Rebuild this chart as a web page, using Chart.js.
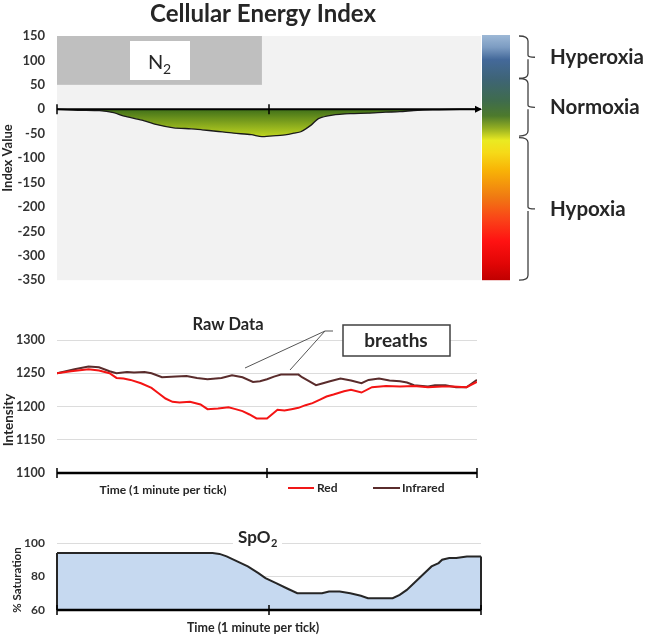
<!DOCTYPE html>
<html>
<head>
<meta charset="utf-8">
<script src="https://cdn.jsdelivr.net/npm/chart.js@4.4.1/dist/chart.umd.min.js"></script>
<style>
  body { margin: 0; background: #fff; }
  #wrap { position: relative; width: 649px; height: 639px; }
  canvas { position: absolute; left: 0; }
</style>
</head>
<body>
<div id="wrap">
  <canvas id="energyChart" style="top:0" width="649" height="300"></canvas>
  <canvas id="rawChart" style="top:300px" width="649" height="200"></canvas>
  <canvas id="spo2Chart" style="top:500px" width="649" height="139"></canvas>
</div>
<script>
"use strict"

// cellular energy index (time in seconds, 2 minutes shown)
const energyTime = [0, 6, 12, 16, 19, 24, 28, 33, 38, 41, 45, 50, 55, 58, 62, 65, 67, 69, 72, 74, 78, 83, 88, 93, 97, 102, 108, 114, 120];
const energyValue = [0, -2, -3, -7, -14, -22, -31, -38, -40, -42, -45, -49, -52, -56, -54, -52, -49, -46, -32, -19, -12, -9, -8, -6, -5, -2, -1, 0, 0];
const energyTicks = [150, 100, 50, 0, -50, -100, -150, -200, -250, -300, -350];
const n2Period = [0, 58];
const n2Range = [50, 150];

// zones next to the colour bar (index value from / to)
const zoneNames = ["Hyperoxia", "Normoxia", "Hypoxia"];
const zoneFrom = [150, 63, -58];
const zoneTo = [63, -55, -350];

// raw data
const redTime = [0, 4, 9, 12, 15, 17, 19, 21, 24, 27, 29, 31, 33, 35, 38, 41, 43, 46, 49, 51, 53, 55, 57, 60, 63, 65, 67, 69, 71, 73, 75, 77, 79, 82, 84, 87, 90, 94, 98, 102, 106, 110, 113, 117, 120];
const redValue = [1250, 1253, 1256, 1254, 1250, 1243, 1242, 1240, 1235, 1228, 1220, 1212, 1207, 1206, 1207, 1203, 1196, 1197, 1199, 1196, 1193, 1188, 1182, 1182, 1195, 1194, 1196, 1198, 1202, 1205, 1210, 1215, 1218, 1223, 1225, 1221, 1229, 1231, 1230, 1231, 1229, 1230, 1230, 1229, 1237];
const irTime = [0, 5, 9, 12, 15, 17, 20, 22, 25, 27, 30, 34, 37, 40, 43, 47, 50, 53, 56, 58, 60, 62, 64, 69, 70, 72, 74, 76, 78, 81, 84, 87, 89, 92, 95, 98, 100, 102, 106, 108, 111, 114, 117, 120];
const irValue = [1250, 1256, 1260, 1259, 1253, 1250, 1252, 1251, 1252, 1250, 1244, 1245, 1246, 1243, 1241, 1243, 1247, 1244, 1237, 1238, 1241, 1245, 1248, 1248, 1244, 1238, 1232, 1235, 1238, 1242, 1239, 1235, 1240, 1242, 1239, 1238, 1236, 1232, 1230, 1232, 1232, 1229, 1229, 1240];
const rawTicks = [1100, 1150, 1200, 1250, 1300];

// SpO2
const spo2Time = [0, 44, 46, 48, 51, 54, 57, 59, 62, 65, 68, 72, 75, 77, 80, 83, 86, 88, 91, 95, 97, 99, 101, 103, 106, 108, 109, 111, 113, 116, 120];
const spo2Value = [94, 94, 93.5, 92, 89, 86, 82, 79, 76, 73, 70, 70, 70, 71, 71, 70, 68.5, 67, 67, 67, 69, 72, 76, 80, 86, 88, 90, 91, 91, 92, 92];
const spo2Ticks = [60, 80, 100];

const timeTicks = [0, 60, 120];

Chart.defaults.font.family = "Lato, 'Open Sans', sans-serif";
Chart.defaults.color = "#3b3b3b";

function points(xs, ys) {
    let out = [];
    for (let i = 0; i < xs.length; i++) {
        out.push({ x: xs[i], y: ys[i] });
    }
    return out;
}

function label(ctx, str, x, y, size, align, rotate) {
    ctx.save();
    ctx.font = "bold " + size + "px Lato, 'Open Sans', sans-serif";
    ctx.fillStyle = "#262626";
    ctx.textAlign = align || "center";
    ctx.textBaseline = "middle";
    ctx.translate(x, y);
    if (rotate) ctx.rotate(-Math.PI / 2);
    ctx.fillText(str, 0, 0);
    ctx.restore();
}

// black time axis with tick marks crossing it
function timeAxis(ctx, x, yPix, width) {
    ctx.save();
    ctx.strokeStyle = "#000";
    ctx.lineWidth = width;
    ctx.beginPath();
    ctx.moveTo(x.getPixelForValue(0), yPix);
    ctx.lineTo(x.getPixelForValue(120), yPix);
    ctx.stroke();
    ctx.lineWidth = 1.5;
    for (let t of timeTicks) {
        let px = x.getPixelForValue(t);
        ctx.beginPath();
        ctx.moveTo(px, yPix - 5);
        ctx.lineTo(px, yPix + 5);
        ctx.stroke();
    }
    ctx.restore();
}

function yScale(min, max, ticks, size, width, gridColor) {
    return {
        min: min,
        max: max,
        afterBuildTicks: s => { s.ticks = ticks.map(v => ({ value: v })); },
        afterFit: s => { s.width = width; },
        ticks: {
            font: { size: size, weight: "bold" },
            color: "#333",
            padding: 12,
            callback: v => String(v)
        },
        border: { display: false },
        grid: {
            drawTicks: false,
            color: c => (gridColor && c.tick.value !== min) ? gridColor : "transparent"
        }
    };
}

const xScale = { type: "linear", min: 0, max: 120, display: false };

// ---------- chart 1: cellular energy index ----------
const energyDecor = {
    id: "energyDecor",
    beforeDatasetsDraw(chart) {
        const { ctx, chartArea: a, scales: { x, y } } = chart;
        ctx.save();
        ctx.fillStyle = "#f2f2f2";
        ctx.fillRect(a.left, a.top, a.right - a.left, a.bottom - a.top);
        let l = x.getPixelForValue(n2Period[0]), r = x.getPixelForValue(n2Period[1]);
        let t = y.getPixelForValue(n2Range[1]), b = y.getPixelForValue(n2Range[0]);
        ctx.fillStyle = "#bfbfbf";
        ctx.fillRect(l, t, r - l, b - t);
        ctx.fillStyle = "#fff";
        ctx.fillRect(130, 41, 60, 39);
        ctx.fillStyle = "#262626";
        ctx.font = "20px Lato, sans-serif";
        ctx.textBaseline = "alphabetic";
        ctx.fillText("N", 148, 69);
        ctx.font = "14px Lato, sans-serif";
        ctx.fillText("2", 163, 74);
        ctx.restore();
    },
    afterDatasetsDraw(chart) {
        const { ctx, chartArea: a, scales: { x, y } } = chart;
        let y0 = y.getPixelForValue(0);
        ctx.save();
        ctx.strokeStyle = "#000";
        ctx.lineWidth = 2;
        ctx.beginPath();
        ctx.moveTo(x.getPixelForValue(0), y0);
        ctx.lineTo(x.getPixelForValue(120) - 4, y0);
        ctx.stroke();
        ctx.fillStyle = "#000";
        ctx.beginPath();
        ctx.moveTo(a.right + 1, y0);
        ctx.lineTo(a.right - 6, y0 - 3.5);
        ctx.lineTo(a.right - 6, y0 + 3.5);
        ctx.closePath();
        ctx.fill();
        ctx.lineWidth = 1.5;
        for (let tk of [0, 60]) {
            let px = x.getPixelForValue(tk);
            ctx.beginPath();
            ctx.moveTo(px, y0 - 5);
            ctx.lineTo(px, y0 + 5);
            ctx.stroke();
        }

        // colour bar
        let top = a.top - 1, bottom = a.bottom;
        let g = ctx.createLinearGradient(0, top, 0, bottom);
        g.addColorStop(0, "#9db8d6");
        g.addColorStop(0.05, "#7c9cc2");
        g.addColorStop(0.10, "#44699a");
        g.addColorStop(0.18, "#3e6476");
        g.addColorStop(0.27, "#3f6c4c");
        g.addColorStop(0.33, "#4d7a2c");
        g.addColorStop(0.38, "#94ae22");
        g.addColorStop(0.43, "#eaea22");
        g.addColorStop(0.48, "#f6da18");
        g.addColorStop(0.55, "#f8b406");
        g.addColorStop(0.66, "#f07a12");
        g.addColorStop(0.75, "#fa4418");
        g.addColorStop(0.84, "#ff1212");
        g.addColorStop(0.93, "#e20606");
        g.addColorStop(1, "#c00000");
        ctx.fillStyle = g;
        ctx.fillRect(482, top, 28, bottom - top);

        // brackets with zone names
        ctx.strokeStyle = "#404040";
        ctx.lineWidth = 1.3;
        for (let i = 0; i < zoneNames.length; i++) {
            let y1 = y.getPixelForValue(zoneFrom[i]);
            let y2 = y.getPixelForValue(zoneTo[i]);
            let ym = (y1 + y2) / 2;
            let bx = 528;
            ctx.beginPath();
            ctx.moveTo(519, y1);
            ctx.quadraticCurveTo(bx, y1, bx, y1 + 5);
            ctx.lineTo(bx, ym - 2);
            ctx.quadraticCurveTo(bx, ym, bx + 7, ym);
            ctx.moveTo(bx, ym + 2);
            ctx.lineTo(bx, y2 - 5);
            ctx.quadraticCurveTo(bx, y2, 519, y2);
            ctx.stroke();
            label(ctx, zoneNames[i], 550, ym, 20.5, "left");
        }
        ctx.restore();

        label(ctx, "Cellular Energy Index", 263, 14, 24);
        label(ctx, "Index Value", 8, 158, 13, "center", true);
    }
};

new Chart(document.getElementById("energyChart"), {
    type: "line",
    data: {
        datasets: [{
            data: points(energyTime, energyValue),
            borderColor: "#1a1a1a",
            borderWidth: 1.3,
            pointRadius: 0,
            tension: 0.25,
            fill: "origin",
            backgroundColor: c => {
                const { ctx, chartArea, scales } = c.chart;
                if (!chartArea) return "#7a9a1a";
                let g = ctx.createLinearGradient(0, scales.y.getPixelForValue(0), 0, scales.y.getPixelForValue(-56));
                g.addColorStop(0, "#40701a");
                g.addColorStop(1, "#c0d620");
                return g;
            }
        }]
    },
    options: {
        responsive: false,
        animation: false,
        layout: { padding: { top: 36, right: 168, bottom: 18, left: 0 } },
        plugins: { legend: { display: false }, tooltip: { enabled: false } },
        scales: { x: xScale, y: yScale(-350, 150, energyTicks, 13, 57, null) }
    },
    plugins: [energyDecor]
});

// ---------- chart 2: raw data ----------
const rawDecor = {
    id: "rawDecor",
    afterDatasetsDraw(chart) {
        const { ctx, chartArea: a, scales: { x } } = chart;
        timeAxis(ctx, x, a.bottom, 2.5);
        label(ctx, "Raw Data", 228, 25, 16.5);
        label(ctx, "Intensity", 9, 120, 13.5, "center", true);
        label(ctx, "Time (1 minute per tick)", 163, 190, 12);

        // legend
        ctx.save();
        ctx.lineWidth = 2;
        ctx.strokeStyle = "#f01818";
        ctx.beginPath(); ctx.moveTo(288, 188); ctx.lineTo(314, 188); ctx.stroke();
        ctx.strokeStyle = "#5a2c2c";
        ctx.beginPath(); ctx.moveTo(373, 188); ctx.lineTo(400, 188); ctx.stroke();
        ctx.restore();
        label(ctx, "Red", 317, 188, 12, "left");
        label(ctx, "Infrared", 402, 188, 12, "left");

        // breaths callout
        ctx.save();
        ctx.strokeStyle = "#555";
        ctx.lineWidth = 1;
        ctx.beginPath();
        ctx.moveTo(245, 68); ctx.lineTo(325, 31); ctx.lineTo(290, 70);
        ctx.moveTo(325, 31); ctx.lineTo(333, 31);
        ctx.stroke();
        ctx.fillStyle = "#fff";
        ctx.fillRect(343, 25, 107, 31);
        ctx.strokeStyle = "#404040";
        ctx.lineWidth = 1.5;
        ctx.strokeRect(343, 25, 107, 31);
        ctx.restore();
        label(ctx, "breaths", 396, 41, 19);
    }
};

new Chart(document.getElementById("rawChart"), {
    type: "line",
    data: {
        datasets: [
            { label: "Red", data: points(redTime, redValue), borderColor: "#f41414", borderWidth: 2, pointRadius: 0 },
            { label: "Infrared", data: points(irTime, irValue), borderColor: "#5a2c2c", borderWidth: 2, pointRadius: 0 }
        ]
    },
    options: {
        responsive: false,
        animation: false,
        layout: { padding: { top: 40, right: 172, bottom: 27, left: 0 } },
        plugins: { legend: { display: false }, tooltip: { enabled: false } },
        scales: { x: xScale, y: yScale(1100, 1300, rawTicks, 12.5, 57, "#dcdcdc") }
    },
    plugins: [rawDecor]
});

// ---------- chart 3: SpO2 ----------
const spo2Decor = {
    id: "spo2Decor",
    afterDatasetsDraw(chart) {
        const { ctx, chartArea: a, scales: { x, y } } = chart;
        ctx.save();
        ctx.strokeStyle = "#262626";
        ctx.lineWidth = 2;
        ctx.beginPath();
        ctx.moveTo(x.getPixelForValue(0), y.getPixelForValue(spo2Value[0]));
        ctx.lineTo(x.getPixelForValue(0), a.bottom);
        ctx.moveTo(x.getPixelForValue(120), y.getPixelForValue(spo2Value[spo2Value.length - 1]));
        ctx.lineTo(x.getPixelForValue(120), a.bottom);
        ctx.stroke();
        ctx.restore();
        timeAxis(ctx, x, a.bottom, 2.5);

        ctx.save();
        ctx.fillStyle = "#fff";
        ctx.fillRect(233, 30, 49, 16);
        ctx.fillStyle = "#262626";
        ctx.font = "bold 17px Lato, sans-serif";
        ctx.textBaseline = "alphabetic";
        ctx.fillText("SpO", 238, 43);
        ctx.font = "bold 11px Lato, sans-serif";
        ctx.fillText("2", 271, 47);
        ctx.restore();
        label(ctx, "% Saturation", 17, 80, 11.5, "center", true);
        label(ctx, "Time (1 minute per tick)", 253, 128, 12.5);
    }
};

new Chart(document.getElementById("spo2Chart"), {
    type: "line",
    data: {
        datasets: [{
            data: points(spo2Time, spo2Value),
            borderColor: "#262626",
            borderWidth: 2,
            pointRadius: 0,
            fill: "start",
            backgroundColor: "#c6d9f0"
        }]
    },
    options: {
        responsive: false,
        animation: false,
        layout: { padding: { top: 43, right: 168, bottom: 29, left: 0 } },
        plugins: { legend: { display: false }, tooltip: { enabled: false } },
        scales: { x: xScale, y: yScale(60, 100, spo2Ticks, 12, 57, "#dcdcdc") }
    },
    plugins: [spo2Decor]
});
</script>
</body>
</html>
